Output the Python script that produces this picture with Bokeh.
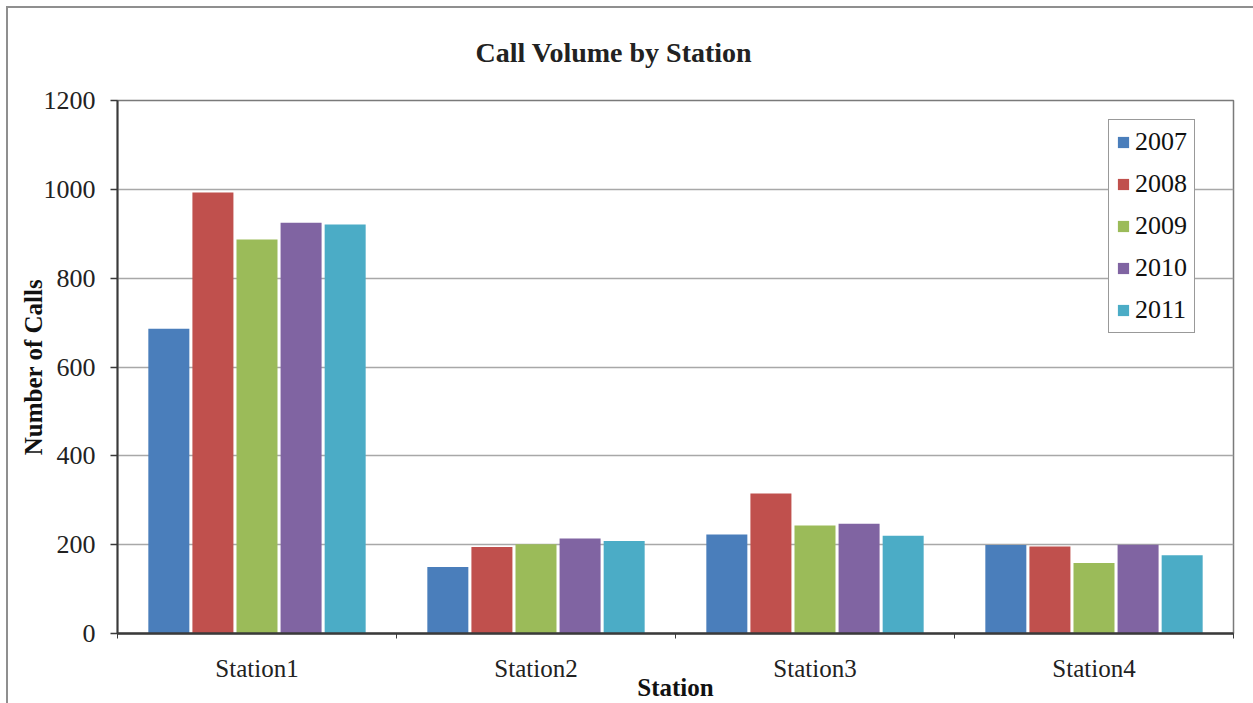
from bokeh.plotting import figure
from bokeh.models import Range1d, FixedTicker, ColumnDataSource
from bokeh.transform import dodge
from bokeh.embed import file_html
from bokeh.resources import INLINE

# Yearly call volume per station
stations = ["Station1", "Station2", "Station3", "Station4"]
years = ["2007", "2008", "2009", "2010", "2011"]
calls_2007 = [686, 150, 223, 199]
calls_2008 = [993, 195, 315, 196]
calls_2009 = [887, 201, 243, 159]
calls_2010 = [925, 214, 247, 200]
calls_2011 = [921, 208, 220, 176]
y_ticks = [0, 200, 400, 600, 800, 1000, 1200]

colors = ["#4A7EBB", "#C0504D", "#9BBB59", "#8064A2", "#4BACC6"]
series = [calls_2007, calls_2008, calls_2009, calls_2010, calls_2011]

centers = [i + 0.5 for i in range(len(stations))]
data = {"x": centers}
for yr, vals in zip(years, series):
    data[yr] = vals
source = ColumnDataSource(data)

SERIF = "Liberation Serif"

p = figure(
    width=1253, height=703,
    x_range=Range1d(0, len(stations)), y_range=Range1d(0, 1200),
    output_backend="svg", toolbar_location=None,
    min_border_left=117, min_border_right=20,
    min_border_top=100, min_border_bottom=70,
    title="Call Volume by Station",
)
p.border_fill_color = None
p.background_fill_color = "white"
p.outline_line_color = "#7a7a7a"
p.outline_line_width = 1.5
# outer chart-area frame (top and left edges)
p.styles = {
    "background": "linear-gradient(#8f8f8f,#8f8f8f) 6px 6px / 1247px 2px no-repeat, "
                  "linear-gradient(#8f8f8f,#8f8f8f) 6px 6px / 2px 697px no-repeat, white"
}

slot = 0.158
bar_w = 0.147
for i, (yr, col) in enumerate(zip(years, colors)):
    off = (i - 2) * slot
    p.vbar(x=dodge("x", off), top=yr, width=bar_w, source=source,
           fill_color=col, line_color=None, legend_label=yr)

# title
p.title.text_font = SERIF
p.title.text_font_size = "28px"
p.title.text_font_style = "bold"
p.title.text_color = "#222222"
p.title.align = "left"
p.title.offset = 358
p.title.standoff = 66

# y axis
yax = p.yaxis[0]
yax.ticker = FixedTicker(ticks=y_ticks)
yax.axis_label = "Number of Calls"
yax.axis_label_text_font = SERIF
yax.axis_label_text_font_size = "25px"
yax.axis_label_text_font_style = "bold"
yax.axis_label_text_color = "#111111"
yax.axis_label_standoff = -6
yax.major_label_text_font = SERIF
yax.major_label_text_font_size = "26px"
yax.major_label_text_color = "#222222"
yax.major_label_standoff = 15
yax.major_tick_out = 7
yax.major_tick_in = 0
yax.minor_tick_out = 0
yax.minor_tick_in = 0
yax.axis_line_color = "#3a3a3a"
yax.axis_line_width = 2
yax.major_tick_line_color = "#3a3a3a"
yax.major_tick_line_width = 1.5

# x axis: labels at category centres, tick marks at category boundaries
xax = p.xaxis[0]
xax.ticker = FixedTicker(ticks=centers, minor_ticks=list(range(len(stations) + 1)))
xax.major_label_overrides = {c: s for c, s in zip(centers, stations)}
xax.axis_label = "Station"
xax.axis_label_text_font = SERIF
xax.axis_label_text_font_size = "25px"
xax.axis_label_text_font_style = "bold"
xax.axis_label_text_color = "#111111"
xax.axis_label_standoff = -11
xax.major_label_text_font = SERIF
xax.major_label_text_font_size = "25px"
xax.major_label_text_color = "#222222"
xax.major_label_standoff = 16
xax.major_tick_out = 0
xax.major_tick_in = 0
xax.minor_tick_out = 5
xax.minor_tick_in = 0
xax.minor_tick_line_color = "#3a3a3a"
xax.axis_line_color = "#3a3a3a"
xax.axis_line_width = 2.5

p.xgrid.grid_line_color = None
p.ygrid.ticker = FixedTicker(ticks=y_ticks)
p.ygrid.grid_line_color = "#a8a8a8"
p.ygrid.grid_line_width = 1.5

# legend
lg = p.legend[0]
lg.location = (991, 300)
lg.margin = 0
lg.padding = 7
lg.spacing = 12
lg.label_height = 30
lg.glyph_height = 14
lg.glyph_width = 14
lg.label_standoff = 5
lg.label_text_font = SERIF
lg.label_text_font_size = "26px"
lg.label_text_color = "#111111"
lg.border_line_color = "#333333"
lg.border_line_width = 1.5
lg.background_fill_color = "white"
lg.background_fill_alpha = 1

open("out.html", "w").write(file_html(p, INLINE))
